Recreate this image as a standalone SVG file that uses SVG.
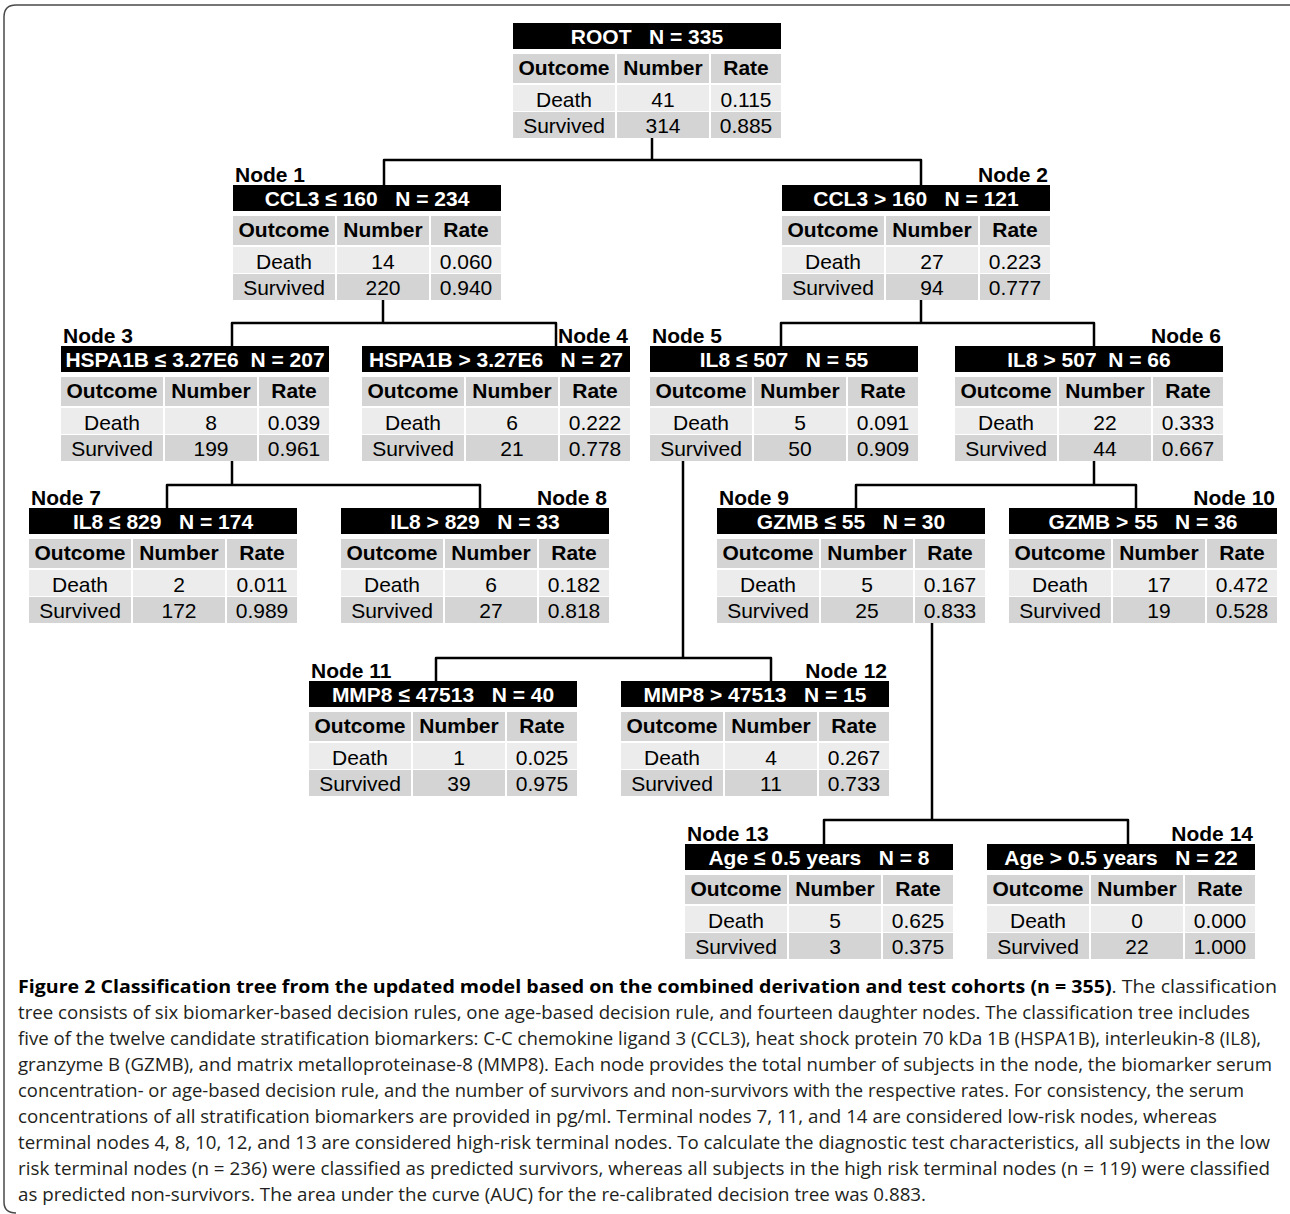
<svg xmlns="http://www.w3.org/2000/svg" width="1290" height="1214" viewBox="0 0 1290 1214">
<style>
.bg{fill:#fff}
.hdr{fill:#000}
.ht{font-family:"Liberation Sans",Arial,sans-serif;font-weight:bold;font-size:21px;fill:#fff;text-anchor:middle;white-space:pre}
.lbl{font-family:"Liberation Sans",Arial,sans-serif;font-weight:bold;font-size:21px;fill:#000}
.r{text-anchor:end}
.c1{fill:#d4d4d4}
.c2{fill:#ececec}
.th{font-family:"Liberation Sans",Arial,sans-serif;font-weight:bold;font-size:21px;fill:#000;text-anchor:middle}
.td{font-family:"Liberation Sans",Arial,sans-serif;font-size:21px;fill:#000;text-anchor:middle}
.conn path{fill:none;stroke:#000;stroke-width:2.5;stroke-linejoin:round}
.cap{font-family:"Open Sans","DejaVu Sans",sans-serif;font-size:18px;fill:#231f20}
.capb{font-weight:bold;fill:#000}
.frame{fill:none;stroke:#4a4a4a;stroke-width:1.5}
</style>
<defs>
<g id="tbl">
<rect class="hdr" x="0" y="0" width="268" height="26"/>
<rect class="c1" x="0" y="31" width="102" height="29"/>
<rect class="c1" x="104" y="31" width="92" height="29"/>
<rect class="c1" x="198" y="31" width="70" height="29"/>
<rect class="c2" x="0" y="62" width="102" height="26"/>
<rect class="c2" x="104" y="62" width="92" height="26"/>
<rect class="c2" x="198" y="62" width="70" height="26"/>
<rect class="c1" x="0" y="89" width="102" height="26"/>
<rect class="c1" x="104" y="89" width="92" height="26"/>
<rect class="c1" x="198" y="89" width="70" height="26"/>
<text class="th" x="51" y="52">Outcome</text>
<text class="th" x="150" y="52">Number</text>
<text class="th" x="233" y="52">Rate</text>
<text class="td" x="51" y="83.5">Death</text>
<text class="td" x="51" y="109.5">Survived</text>
</g>
</defs>
<rect class="bg" x="0" y="0" width="1290" height="1214"/>
<path class="frame" d="M1290,5 H16 Q4,5 4,17 V1202 Q4,1213 16,1213"/>

<g id="connectors" class="conn">
<path d="M652,138 V160"/>
<path d="M384,185 V160 H921 V185"/>
<path d="M383,300 V323"/>
<path d="M232,346 V323 H556 V346"/>
<path d="M921,300 V323"/>
<path d="M781,346 V323 H1094 V346"/>
<path d="M232,461 V485"/>
<path d="M167,508 V485 H480 V508"/>
<path d="M683,461 V658"/>
<path d="M436,681 V658 H771 V681"/>
<path d="M1094,461 V485"/>
<path d="M856,508 V485 H1136 V508"/>
<path d="M932,623 V820"/>
<path d="M824,844 V820 H1128 V844"/>
</g>

<g id="root" transform="translate(513,23)">
<use href="#tbl"/>
<text class="ht" x="134" y="20.5">ROOT   N = 335</text>
<text class="td" x="150" y="83.5">41</text><text class="td" x="233" y="83.5">0.115</text>
<text class="td" x="150" y="109.5">314</text><text class="td" x="233" y="109.5">0.885</text>
</g>

<g id="node1" transform="translate(233,185)">
<text class="lbl" x="2" y="-3">Node 1</text>
<use href="#tbl"/>
<text class="ht" x="134" y="20.5">CCL3 ≤ 160   N = 234</text>
<text class="td" x="150" y="83.5">14</text><text class="td" x="233" y="83.5">0.060</text>
<text class="td" x="150" y="109.5">220</text><text class="td" x="233" y="109.5">0.940</text>
</g>

<g id="node2" transform="translate(782,185)">
<text class="lbl r" x="266" y="-3">Node 2</text>
<use href="#tbl"/>
<text class="ht" x="134" y="20.5">CCL3 &gt; 160   N = 121</text>
<text class="td" x="150" y="83.5">27</text><text class="td" x="233" y="83.5">0.223</text>
<text class="td" x="150" y="109.5">94</text><text class="td" x="233" y="109.5">0.777</text>
</g>

<g id="node3" transform="translate(61,346)">
<text class="lbl" x="2" y="-3">Node 3</text>
<use href="#tbl"/>
<text class="ht" x="134" y="20.5">HSPA1B ≤ 3.27E6  N = 207</text>
<text class="td" x="150" y="83.5">8</text><text class="td" x="233" y="83.5">0.039</text>
<text class="td" x="150" y="109.5">199</text><text class="td" x="233" y="109.5">0.961</text>
</g>

<g id="node4" transform="translate(362,346)">
<text class="lbl r" x="266" y="-3">Node 4</text>
<use href="#tbl"/>
<text class="ht" x="134" y="20.5">HSPA1B &gt; 3.27E6   N = 27</text>
<text class="td" x="150" y="83.5">6</text><text class="td" x="233" y="83.5">0.222</text>
<text class="td" x="150" y="109.5">21</text><text class="td" x="233" y="109.5">0.778</text>
</g>

<g id="node5" transform="translate(650,346)">
<text class="lbl" x="2" y="-3">Node 5</text>
<use href="#tbl"/>
<text class="ht" x="134" y="20.5">IL8 ≤ 507   N = 55</text>
<text class="td" x="150" y="83.5">5</text><text class="td" x="233" y="83.5">0.091</text>
<text class="td" x="150" y="109.5">50</text><text class="td" x="233" y="109.5">0.909</text>
</g>

<g id="node6" transform="translate(955,346)">
<text class="lbl r" x="266" y="-3">Node 6</text>
<use href="#tbl"/>
<text class="ht" x="134" y="20.5">IL8 &gt; 507  N = 66</text>
<text class="td" x="150" y="83.5">22</text><text class="td" x="233" y="83.5">0.333</text>
<text class="td" x="150" y="109.5">44</text><text class="td" x="233" y="109.5">0.667</text>
</g>

<g id="node7" transform="translate(29,508)">
<text class="lbl" x="2" y="-3">Node 7</text>
<use href="#tbl"/>
<text class="ht" x="134" y="20.5">IL8 ≤ 829   N = 174</text>
<text class="td" x="150" y="83.5">2</text><text class="td" x="233" y="83.5">0.011</text>
<text class="td" x="150" y="109.5">172</text><text class="td" x="233" y="109.5">0.989</text>
</g>

<g id="node8" transform="translate(341,508)">
<text class="lbl r" x="266" y="-3">Node 8</text>
<use href="#tbl"/>
<text class="ht" x="134" y="20.5">IL8 &gt; 829   N = 33</text>
<text class="td" x="150" y="83.5">6</text><text class="td" x="233" y="83.5">0.182</text>
<text class="td" x="150" y="109.5">27</text><text class="td" x="233" y="109.5">0.818</text>
</g>

<g id="node9" transform="translate(717,508)">
<text class="lbl" x="2" y="-3">Node 9</text>
<use href="#tbl"/>
<text class="ht" x="134" y="20.5">GZMB ≤ 55   N = 30</text>
<text class="td" x="150" y="83.5">5</text><text class="td" x="233" y="83.5">0.167</text>
<text class="td" x="150" y="109.5">25</text><text class="td" x="233" y="109.5">0.833</text>
</g>

<g id="node10" transform="translate(1009,508)">
<text class="lbl r" x="266" y="-3">Node 10</text>
<use href="#tbl"/>
<text class="ht" x="134" y="20.5">GZMB &gt; 55   N = 36</text>
<text class="td" x="150" y="83.5">17</text><text class="td" x="233" y="83.5">0.472</text>
<text class="td" x="150" y="109.5">19</text><text class="td" x="233" y="109.5">0.528</text>
</g>

<g id="node11" transform="translate(309,681)">
<text class="lbl" x="2" y="-3">Node 11</text>
<use href="#tbl"/>
<text class="ht" x="134" y="20.5">MMP8 ≤ 47513   N = 40</text>
<text class="td" x="150" y="83.5">1</text><text class="td" x="233" y="83.5">0.025</text>
<text class="td" x="150" y="109.5">39</text><text class="td" x="233" y="109.5">0.975</text>
</g>

<g id="node12" transform="translate(621,681)">
<text class="lbl r" x="266" y="-3">Node 12</text>
<use href="#tbl"/>
<text class="ht" x="134" y="20.5">MMP8 &gt; 47513   N = 15</text>
<text class="td" x="150" y="83.5">4</text><text class="td" x="233" y="83.5">0.267</text>
<text class="td" x="150" y="109.5">11</text><text class="td" x="233" y="109.5">0.733</text>
</g>

<g id="node13" transform="translate(685,844)">
<text class="lbl" x="2" y="-3">Node 13</text>
<use href="#tbl"/>
<text class="ht" x="134" y="20.5">Age ≤ 0.5 years   N = 8</text>
<text class="td" x="150" y="83.5">5</text><text class="td" x="233" y="83.5">0.625</text>
<text class="td" x="150" y="109.5">3</text><text class="td" x="233" y="109.5">0.375</text>
</g>

<g id="node14" transform="translate(987,844)">
<text class="lbl r" x="266" y="-3">Node 14</text>
<use href="#tbl"/>
<text class="ht" x="134" y="20.5">Age &gt; 0.5 years   N = 22</text>
<text class="td" x="150" y="83.5">0</text><text class="td" x="233" y="83.5">0.000</text>
<text class="td" x="150" y="109.5">22</text><text class="td" x="233" y="109.5">1.000</text>
</g>

<g id="caption" class="cap">
<text x="18" y="993" textLength="1259" lengthAdjust="spacingAndGlyphs"><tspan class="capb">Figure 2 Classification tree from the updated model based on the combined derivation and test cohorts (n = 355)</tspan>. The classification</text>
<text x="18" y="1019" textLength="1232" lengthAdjust="spacingAndGlyphs">tree consists of six biomarker-based decision rules, one age-based decision rule, and fourteen daughter nodes. The classification tree includes</text>
<text x="18" y="1045" textLength="1243" lengthAdjust="spacingAndGlyphs">five of the twelve candidate stratification biomarkers: C-C chemokine ligand 3 (CCL3), heat shock protein 70 kDa 1B (HSPA1B), interleukin-8 (IL8),</text>
<text x="18" y="1071" textLength="1254" lengthAdjust="spacingAndGlyphs">granzyme B (GZMB), and matrix metalloproteinase-8 (MMP8). Each node provides the total number of subjects in the node, the biomarker serum</text>
<text x="18" y="1097" textLength="1226" lengthAdjust="spacingAndGlyphs">concentration- or age-based decision rule, and the number of survivors and non-survivors with the respective rates. For consistency, the serum</text>
<text x="18" y="1123" textLength="1199" lengthAdjust="spacingAndGlyphs">concentrations of all stratification biomarkers are provided in pg/ml. Terminal nodes 7, 11, and 14 are considered low-risk nodes, whereas</text>
<text x="18" y="1149" textLength="1252" lengthAdjust="spacingAndGlyphs">terminal nodes 4, 8, 10, 12, and 13 are considered high-risk terminal nodes. To calculate the diagnostic test characteristics, all subjects in the low</text>
<text x="18" y="1175" textLength="1252" lengthAdjust="spacingAndGlyphs">risk terminal nodes (n = 236) were classified as predicted survivors, whereas all subjects in the high risk terminal nodes (n = 119) were classified</text>
<text x="18" y="1201" textLength="908" lengthAdjust="spacingAndGlyphs">as predicted non-survivors. The area under the curve (AUC) for the re-calibrated decision tree was 0.883.</text>
</g>
</svg>
